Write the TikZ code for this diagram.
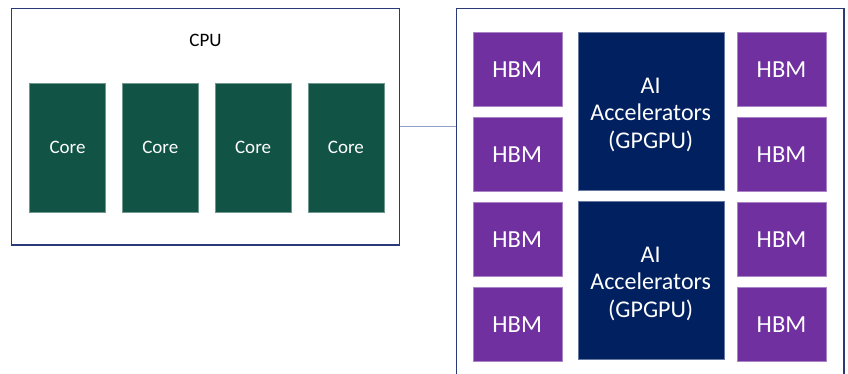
\documentclass[tikz,border=0pt]{standalone}
\usepackage{fontspec}
\setmainfont{Carlito}
\definecolor{coregreen}{HTML}{115345}
\definecolor{hbmpurple}{HTML}{7030A0}
\definecolor{accnavy}{HTML}{002060}
\definecolor{framecol}{HTML}{2A3A78}
\definecolor{linkcol}{HTML}{8EA0C8}
\begin{document}
\begin{tikzpicture}[x=1pt,y=-1pt,
  outer/.style={draw=framecol,line width=1.2pt,fill=white,inner sep=0pt},
  corebox/.style={fill=coregreen,draw=coregreen!60!white,line width=0.4pt,text=white,
    inner sep=0pt,minimum width=76pt,minimum height=129pt,font=\fontsize{19}{22}\selectfont},
  hbmbox/.style={fill=hbmpurple,draw=hbmpurple!60!white,line width=0.4pt,text=white,
    inner sep=0pt,minimum width=89pt,minimum height=74pt,font=\fontsize{24.5}{28}\selectfont},
  aibox/.style={fill=accnavy,draw=accnavy!60!white,line width=0.4pt,
    inner sep=0pt,minimum width=146pt,minimum height=158pt,
    label={[text=white,align=center,yshift=-3pt,font=\fontsize{24}{27.5}\selectfont]center:{AI\\Accelerators\\(GPGPU)}}}]
  \useasboundingbox (0,0) rectangle (848,374);
  % CPU side
  \node[outer,minimum width=388pt,minimum height=236.5pt] (cpu) at (205.5,126.75) {};
  \node[font=\fontsize{19}{22}\selectfont] (cpulabel) at (205.5,40) {CPU};
  \foreach \i in {1,...,4}
    \node[corebox] (core\i) at (67.5+92.8*\i-92.8,147.5) {Core};
  % accelerator side
  \node[outer,minimum width=387.3pt,minimum height=391.5pt] (accel) at (650.4,204) {};
  \foreach \r/\y in {1/69.5,2/154.5,3/239.5,4/324.5} {
    \node[hbmbox] (hbml\r) at (517.2,\y) {HBM};
    \node[hbmbox] (hbmr\r) at (781.5,\y) {HBM};
  }
  \node[aibox] (ai1) at (650.7,111.5) {};
  \node[aibox] (ai2) at (650.7,280.5) {};
  % link
  \draw[linkcol,line width=1pt] (cpu.east) -- (cpu.east -| accel.west);
\end{tikzpicture}
\end{document}
